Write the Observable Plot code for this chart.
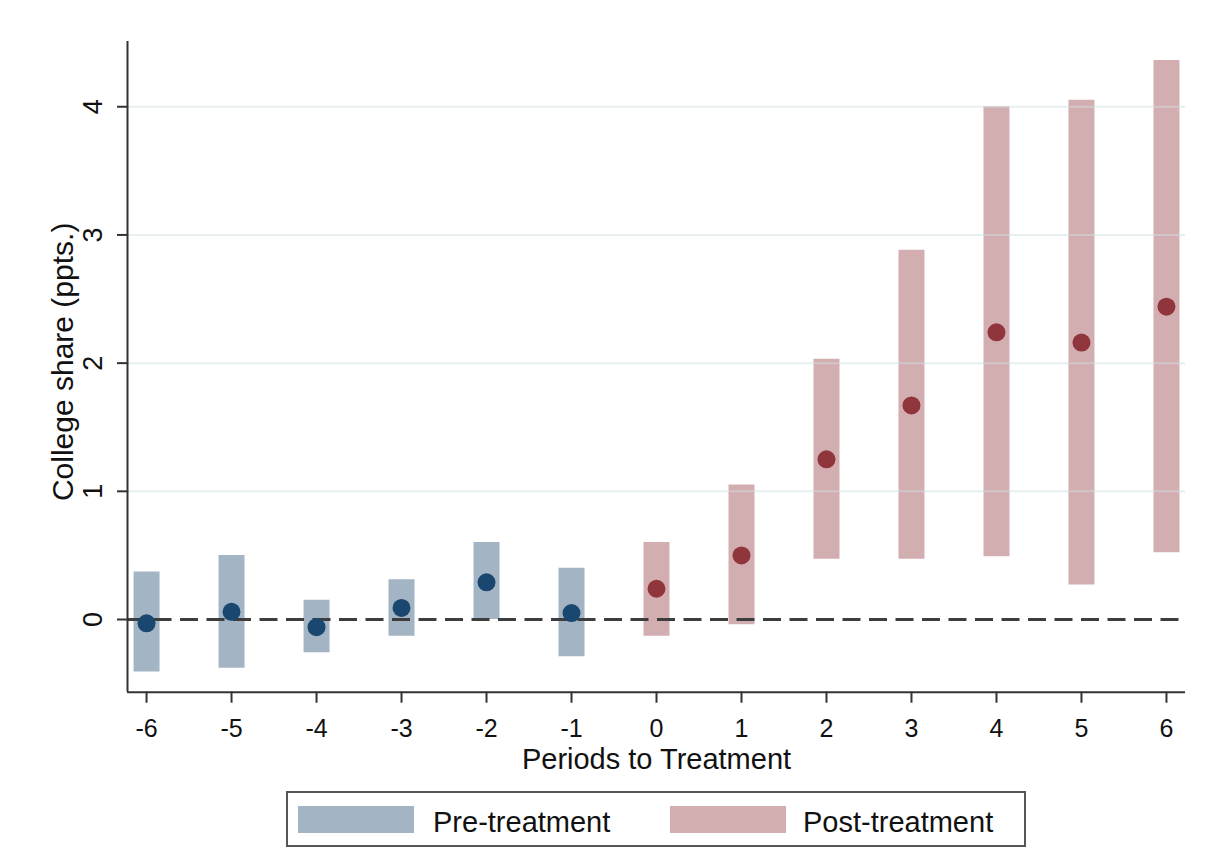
<!DOCTYPE html>
<html>
<head>
<meta charset="utf-8">
<script src="https://cdn.jsdelivr.net/npm/d3@7"></script>
<script src="https://cdn.jsdelivr.net/npm/@observablehq/plot@0.6"></script>
<style>
  body { margin: 0; background: #fff; font-family: "Liberation Sans", Arial, sans-serif; }
  #wrap { position: relative; width: 1213px; height: 868px; background: #fff; }
  #chart { position: absolute; left: 0; top: 0; }
  .legend { position: absolute; left: 286px; top: 791px; width: 736px; height: 52px; border: 2px solid #555; background: #fff; }
  .legend .sw { position: absolute; top: 12.7px; width: 116px; height: 27px; }
  .legend .lab { position: absolute; top: 14.5px; font-size: 29px; line-height: 29px; color: #111; white-space: nowrap; }
</style>
</head>
<body>
<div id="wrap">
  <div id="chart"></div>
  <div class="legend" id="legend"></div>
</div>
<script>
// Event-study estimates: college share (ppts.) by period relative to treatment
const periods   = [-6, -5, -4, -3, -2, -1, 0, 1, 2, 3, 4, 5, 6];
const estimates = [-0.03, 0.06, -0.06, 0.09, 0.29, 0.05, 0.24, 0.50, 1.25, 1.67, 2.24, 2.16, 2.44];
const ciLow     = [-0.41, -0.38, -0.26, -0.13, 0.00, -0.29, -0.13, -0.04, 0.47, 0.47, 0.49, 0.27, 0.52];
const ciHigh    = [0.37, 0.50, 0.15, 0.31, 0.60, 0.40, 0.60, 1.05, 2.03, 2.88, 4.00, 4.05, 4.36];

const xTicks = [-6, -5, -4, -3, -2, -1, 0, 1, 2, 3, 4, 5, 6];
const yTicks = [0, 1, 2, 3, 4];
const phaseNames = ["Pre-treatment", "Post-treatment"];
const barColors = ["#a3b5c5", "#d3aeb1"];
const dotColors = ["#1a476f", "#90353b"];

const rows = periods.map((p, i) => ({
  period: p, est: estimates[i], lo: ciLow[i], hi: ciHigh[i],
  phase: p < 0 ? phaseNames[0] : phaseNames[1]
}));
const isPre = d => d.phase === phaseNames[0];
const isPost = d => d.phase === phaseNames[1];

const xDomain = [-6.224, 6.224];
const yDomain = [-0.567, 4.509];
const axisColor = "#333";

const chart = Plot.plot({
  width: 1213,
  height: 785,
  marginTop: 41,
  marginBottom: 93.3,
  marginLeft: 127,
  marginRight: 28,
  style: { fontFamily: "'Liberation Sans', Arial, sans-serif", color: "#111", background: "transparent" },
  x: { domain: xDomain },
  y: { domain: yDomain },
  marks: [
    // confidence-interval bars
    Plot.ruleX(rows, { filter: isPre, x: "period", y1: "lo", y2: "hi", stroke: barColors[0], strokeWidth: 26 }),
    Plot.ruleX(rows, { filter: isPost, x: "period", y1: "lo", y2: "hi", stroke: barColors[1], strokeWidth: 26 }),
    // horizontal grid
    Plot.ruleY(yTicks.filter(d => d !== 0), { stroke: "#cfe0e3", strokeWidth: 2, strokeOpacity: 0.5 }),
    // zero reference line
    Plot.ruleY([0], { stroke: "#3d3d3d", strokeWidth: 3, strokeDasharray: "18,8.5" }),
    // point estimates
    Plot.dot(rows, { filter: isPre, x: "period", y: "est", r: 9, fill: dotColors[0] }),
    Plot.dot(rows, { filter: isPost, x: "period", y: "est", r: 9, fill: dotColors[1] }),
    // axis lines
    Plot.ruleX([xDomain[0]], { stroke: axisColor, strokeWidth: 2 }),
    Plot.ruleY([yDomain[0]], { stroke: axisColor, strokeWidth: 2 }),
    // axes
    Plot.axisX({ ticks: xTicks, tickSize: 11, tickPadding: 16, fontSize: 25, tickFormat: d => String(d), label: null, stroke: axisColor, strokeWidth: 2 }),
    Plot.axisY({ ticks: yTicks, tickSize: 10, tickFormat: () => "", label: null, stroke: axisColor, strokeWidth: 2 }),
    Plot.text(yTicks, { y: d => d, text: d => String(d), frameAnchor: "left", dx: -34, rotate: -90, fontSize: 27, lineAnchor: "middle", textAnchor: "middle", fill: "#111" }),
    // axis titles
    Plot.text(["Periods to Treatment"], { text: d => d, frameAnchor: "bottom", dy: 77, lineAnchor: "bottom", fontSize: 29, fill: "#111" }),
    Plot.text(["College share (ppts.)"], { text: d => d, frameAnchor: "left", dx: -64, dy: -5, rotate: -90, lineAnchor: "middle", textAnchor: "middle", fontSize: 30, fill: "#111" })
  ]
});
document.getElementById("chart").appendChild(chart);

// legend below the plot
const legend = document.getElementById("legend");
const swatchLeft = [10, 382];
const labelLeft = [145, 515];
phaseNames.forEach((name, i) => {
  const sw = document.createElement("div");
  sw.className = "sw";
  sw.style.left = swatchLeft[i] + "px";
  sw.style.background = barColors[i];
  legend.appendChild(sw);
  const lab = document.createElement("div");
  lab.className = "lab";
  lab.style.left = labelLeft[i] + "px";
  lab.textContent = name;
  legend.appendChild(lab);
});
</script>
</body>
</html>
